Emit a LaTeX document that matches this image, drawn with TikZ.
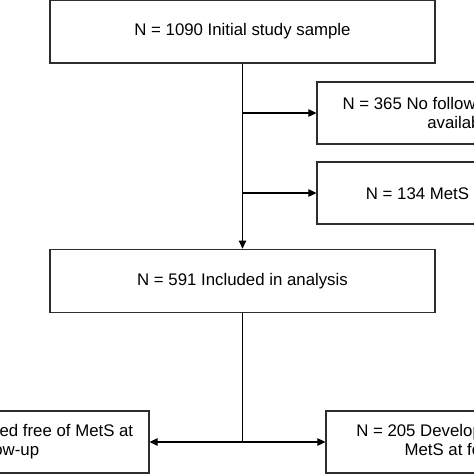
\documentclass[tikz,border=0pt]{standalone}
\usepackage{fontspec}
\setmainfont{Liberation Sans}
\usetikzlibrary{arrows.meta,positioning}
\definecolor{boxgray}{RGB}{45,45,45}

\begin{document}
\begin{tikzpicture}[x=1pt,y=-1pt,
    box/.style={draw=boxgray, line width=1.2pt, rectangle, align=center, inner sep=0pt,
        font=\fontsize{16.8}{19}\selectfont},
    mainbox/.style={box, minimum width=385pt, minimum height=63pt},
    sidebox/.style={box, minimum width=287pt, minimum height=62pt},
    arr/.style={-{Triangle[length=8pt,width=7.5pt]}, line width=1.1pt}]
    \useasboundingbox (0,0) rectangle (474,474);
    \clip (0,0) rectangle (474,474);

    % Main flow
    \node[mainbox] (init) at (242.5,31.5) {N = 1090 Initial study sample};
    \node[mainbox, below=185pt of init] (incl) {N = 591 Included in analysis};

    % Exclusions
    \node[sidebox] (nofu) at (460.5,113) {N = 365 No follow-up data were\\available};
    \node[sidebox] (base) at (460.5,193) {N = 134 MetS at baseline};

    % Outcomes
    \node[sidebox] (free) at (5.5,442) {N = 386 Remained free of MetS at\\follow-up};
    \node[sidebox] (dev) at (469.5,442) {N = 205 Developed new-onset\\MetS at follow-up};

    % Connectors
    \coordinate (split) at (incl.south |- free.east);
    \draw[arr] (init.south) -- (incl.north);
    \draw[arr] (init.south |- nofu.west) -- (nofu.west);
    \draw[arr] (init.south |- base.west) -- (base.west);
    \draw[line width=1.1pt] (incl.south) -- (split);
    \draw[arr] (split) -- (free.east);
    \draw[arr] (split) -- (dev.west);
\end{tikzpicture}
\end{document}
